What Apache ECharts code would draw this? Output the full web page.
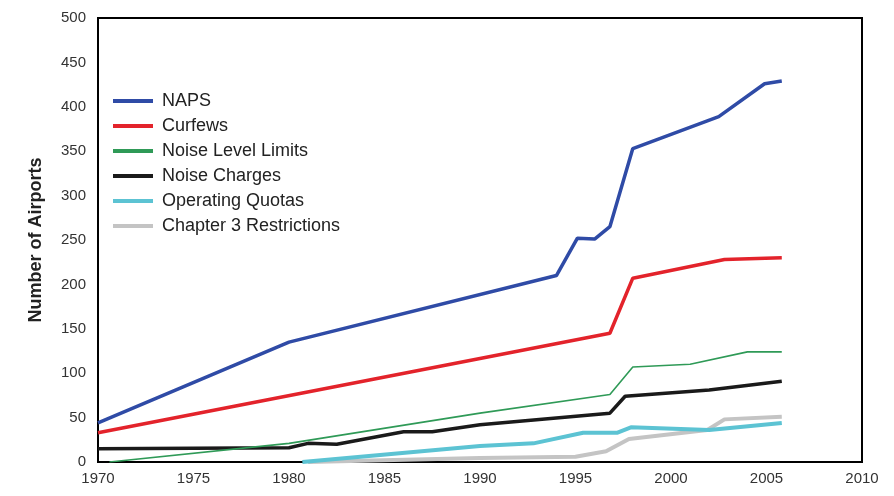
<!DOCTYPE html>
<html><head><meta charset="utf-8">
<script src="https://cdn.jsdelivr.net/npm/echarts@6/dist/echarts.min.js"></script>
<style>html,body{margin:0;padding:0;background:#fff}#c{width:894px;height:496px}</style>
</head><body><div id="c"></div>
<script>
const seriesNames = ["NAPS","Curfews","Noise Level Limits","Noise Charges","Operating Quotas","Chapter 3 Restrictions"];
const napsData = [[1970,44],[1980,135],[1994,210],[1995.1,252],[1996,251],[1996.8,265],[1998,353],[2002.5,389],[2004.9,426],[2005.8,429]];
const curfewsData = [[1970,33],[1996.8,145],[1998,207],[2002.8,228],[2005.8,230]];
const noiseLevelData = [[1970.6,0],[1980,21],[1990,55],[1996.8,76],[1998,107],[2001,110],[2004,124],[2005.8,124]];
const noiseChargesData = [[1970,15],[1980,16],[1981,21],[1982.5,20],[1986,34],[1987.5,34],[1990,42],[1996.8,55],[1997.6,74],[2002,81],[2005.8,91]];
const quotasData = [[1980.7,0],[1990,18],[1992.8,21],[1995.4,33],[1997.2,33],[1997.9,39],[2002,36],[2005.8,44]];
const chapter3Data = [[1981,0],[1990,4.5],[1995,6],[1996.6,12],[1997.8,26],[2001.9,36],[2002.8,48],[2005.8,51]];
const xTicks = [1970,1975,1980,1985,1990,1995,2000,2005,2010];
const yTicks = [0,50,100,150,200,250,300,350,400,450,500];

const colors = ["#2f4ba6","#e3232b","#2f9a57","#1a1a1a","#5cc3d3","#c4c4c4"];
const widths = [3.5,3.5,1.6,3.5,4,4];
const datas = [napsData,curfewsData,noiseLevelData,noiseChargesData,quotasData,chapter3Data];

const chart = echarts.init(document.getElementById('c'));
chart.setOption({
  animation:false,
  grid:{left:98,right:32,top:18,bottom:34,show:true,borderColor:'#000',borderWidth:2,backgroundColor:'#fff'},
  legend:{
    orient:'vertical',left:108,top:87,itemWidth:40,itemHeight:4,itemGap:7,icon:'rect',
    textStyle:{fontFamily:'Liberation Sans, Arial',fontSize:18,color:'#222',padding:[0,0,0,4]},
    data:seriesNames
  },
  xAxis:{type:'value',min:xTicks[0],max:xTicks[xTicks.length-1],interval:5,
    axisLine:{show:true,lineStyle:{color:'#000',width:2}},axisTick:{show:false},splitLine:{show:false},
    axisLabel:{fontFamily:'Liberation Sans, Arial',fontSize:15,color:'#333',margin:9,formatter:v=>String(v)}},
  yAxis:{type:'value',min:yTicks[0],max:yTicks[yTicks.length-1],interval:50,
    name:'Number of Airports',nameLocation:'middle',nameGap:53,
    nameTextStyle:{fontFamily:'Liberation Sans, Arial',fontSize:18,fontWeight:'bold',color:'#222'},
    axisLine:{show:true,lineStyle:{color:'#000',width:2}},axisTick:{show:false},splitLine:{show:false},
    axisLabel:{fontFamily:'Liberation Sans, Arial',fontSize:15,color:'#333',margin:12}},
  series: seriesNames.map((n,i)=>({
    name:n,type:'line',data:datas[i],symbol:'none',
    lineStyle:{color:colors[i],width:widths[i]},itemStyle:{color:colors[i]},
    z: 10-i
  }))
});
</script></body></html>
